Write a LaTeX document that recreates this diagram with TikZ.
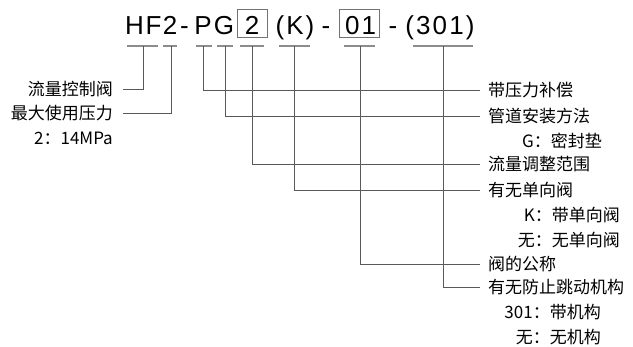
\documentclass[tikz,border=0pt]{standalone}
\usepackage{fontspec}
\setmainfont{Noto Sans CJK SC}
\newfontfamily\titlefont{Liberation Sans}
\newfontfamily\titlefontsp[LetterSpace=8]{Liberation Sans}
\begin{document}
\begin{tikzpicture}[x=1pt,y=-1pt,
  ttl/.style={font=\titlefont\fontsize{26}{26}\selectfont, inner sep=0pt, anchor=base},
  ttlsp/.style={font=\titlefontsp\fontsize{26}{26}\selectfont, inner sep=0pt, anchor=base},
  codebox/.style={draw=black!55, line width=0.7pt, inner sep=0pt},
  uline/.style={draw=black!45, line width=1.3pt},
  lead/.style={draw=black!65, line width=0.7pt},
  lbl/.style={font=\fontsize{17}{18}\selectfont, inner ysep=0pt},
  leftlbl/.style={lbl, anchor=east, inner xsep=10pt},
  rightlbl/.style={lbl, anchor=west, inner xsep=8pt},
  sublbl/.style={lbl, anchor=east, inner xsep=0pt}]
\useasboundingbox (0,0) rectangle (633,347);

% model code
\node[ttl] (cH) at (134.5,35) {H};
\node[ttl] (cF) at (153.5,35) {F};
\node[ttl] (c2) at (170,35) {2};
\node[ttl] (cd1) at (184.5,35) {-};
\node[ttl] (cP) at (203,35) {P};
\node[ttl] (cG) at (224,35) {G};
\node[codebox, minimum width=30pt, minimum height=28pt] (bx2) at (252,23) {};
\node[ttl] (cB) at (252,35) {2};
\node[ttlsp] (cK) at (295,35) {(K)};
\node[ttl] (cd2) at (326,35) {-};
\node[codebox, minimum width=40pt, minimum height=28pt] (bx01) at (359.5,23) {};
\node[ttlsp] (cN) at (360.5,35) {01};
\node[ttl] (cd3) at (393,35) {-};
\node[ttlsp] (cS) at (440,35) {(301)};

% underlines below each part of the code
\draw[uline] (127,46) -- (158,46);
\draw[uline] (163,46) -- (177,46);
\draw[uline] (196,46) -- (212,46);
\draw[uline] (217,46) -- (233,46);
\draw[uline] (240,46) -- (264,46);
\draw[uline] (279,46) -- (310,46);
\draw[uline] (344,46) -- (375,46);
\draw[uline] (413,46) -- (473,46);
\coordinate (uHF) at (143,46);
\coordinate (u2)  at (171,46);
\coordinate (uP)  at (203,46);
\coordinate (uG)  at (225,46);
\coordinate (uB)  at (252,46);
\coordinate (uK)  at (294,46);
\coordinate (uN)  at (360,46);
\coordinate (uS)  at (443,46);

% left labels
\node[leftlbl] (lHF) at (123,89) {流量控制阀};
\node[leftlbl] (lPr) at (123,113) {最大使用压力};
\node[sublbl] (lPrv) at (113,138) {2：14MPa};

% right labels
\node[rightlbl] (rP) at (480,90) {带压力补偿};
\node[rightlbl] (rG) at (480,116) {管道安装方法};
\node[sublbl] (rGv) at (602,141) {G：密封垫};
\node[rightlbl] (rB) at (480,164) {流量调整范围};
\node[rightlbl] (rK) at (480,190) {有无单向阀};
\node[sublbl] (rKv1) at (620,215) {K：带单向阀};
\node[sublbl] (rKv2) at (620,240) {无：无单向阀};
\node[rightlbl] (rN) at (480,264) {阀的公称};
\node[rightlbl] (rS) at (480,287) {有无防止跳动机构};
\node[sublbl] (rSv1) at (601,312) {301：带机构};
\node[sublbl] (rSv2) at (601,337) {无：无机构};

% leader lines
\draw[lead] (uHF) |- (lHF.east);
\draw[lead] (u2)  |- (lPr.east);
\draw[lead] (uP)  |- (rP.west);
\draw[lead] (uG)  |- (rG.west);
\draw[lead] (uB)  |- (rB.west);
\draw[lead] (uK)  |- (rK.west);
\draw[lead] (uN)  |- (rN.west);
\draw[lead] (uS)  |- (rS.west);
\end{tikzpicture}
\end{document}
